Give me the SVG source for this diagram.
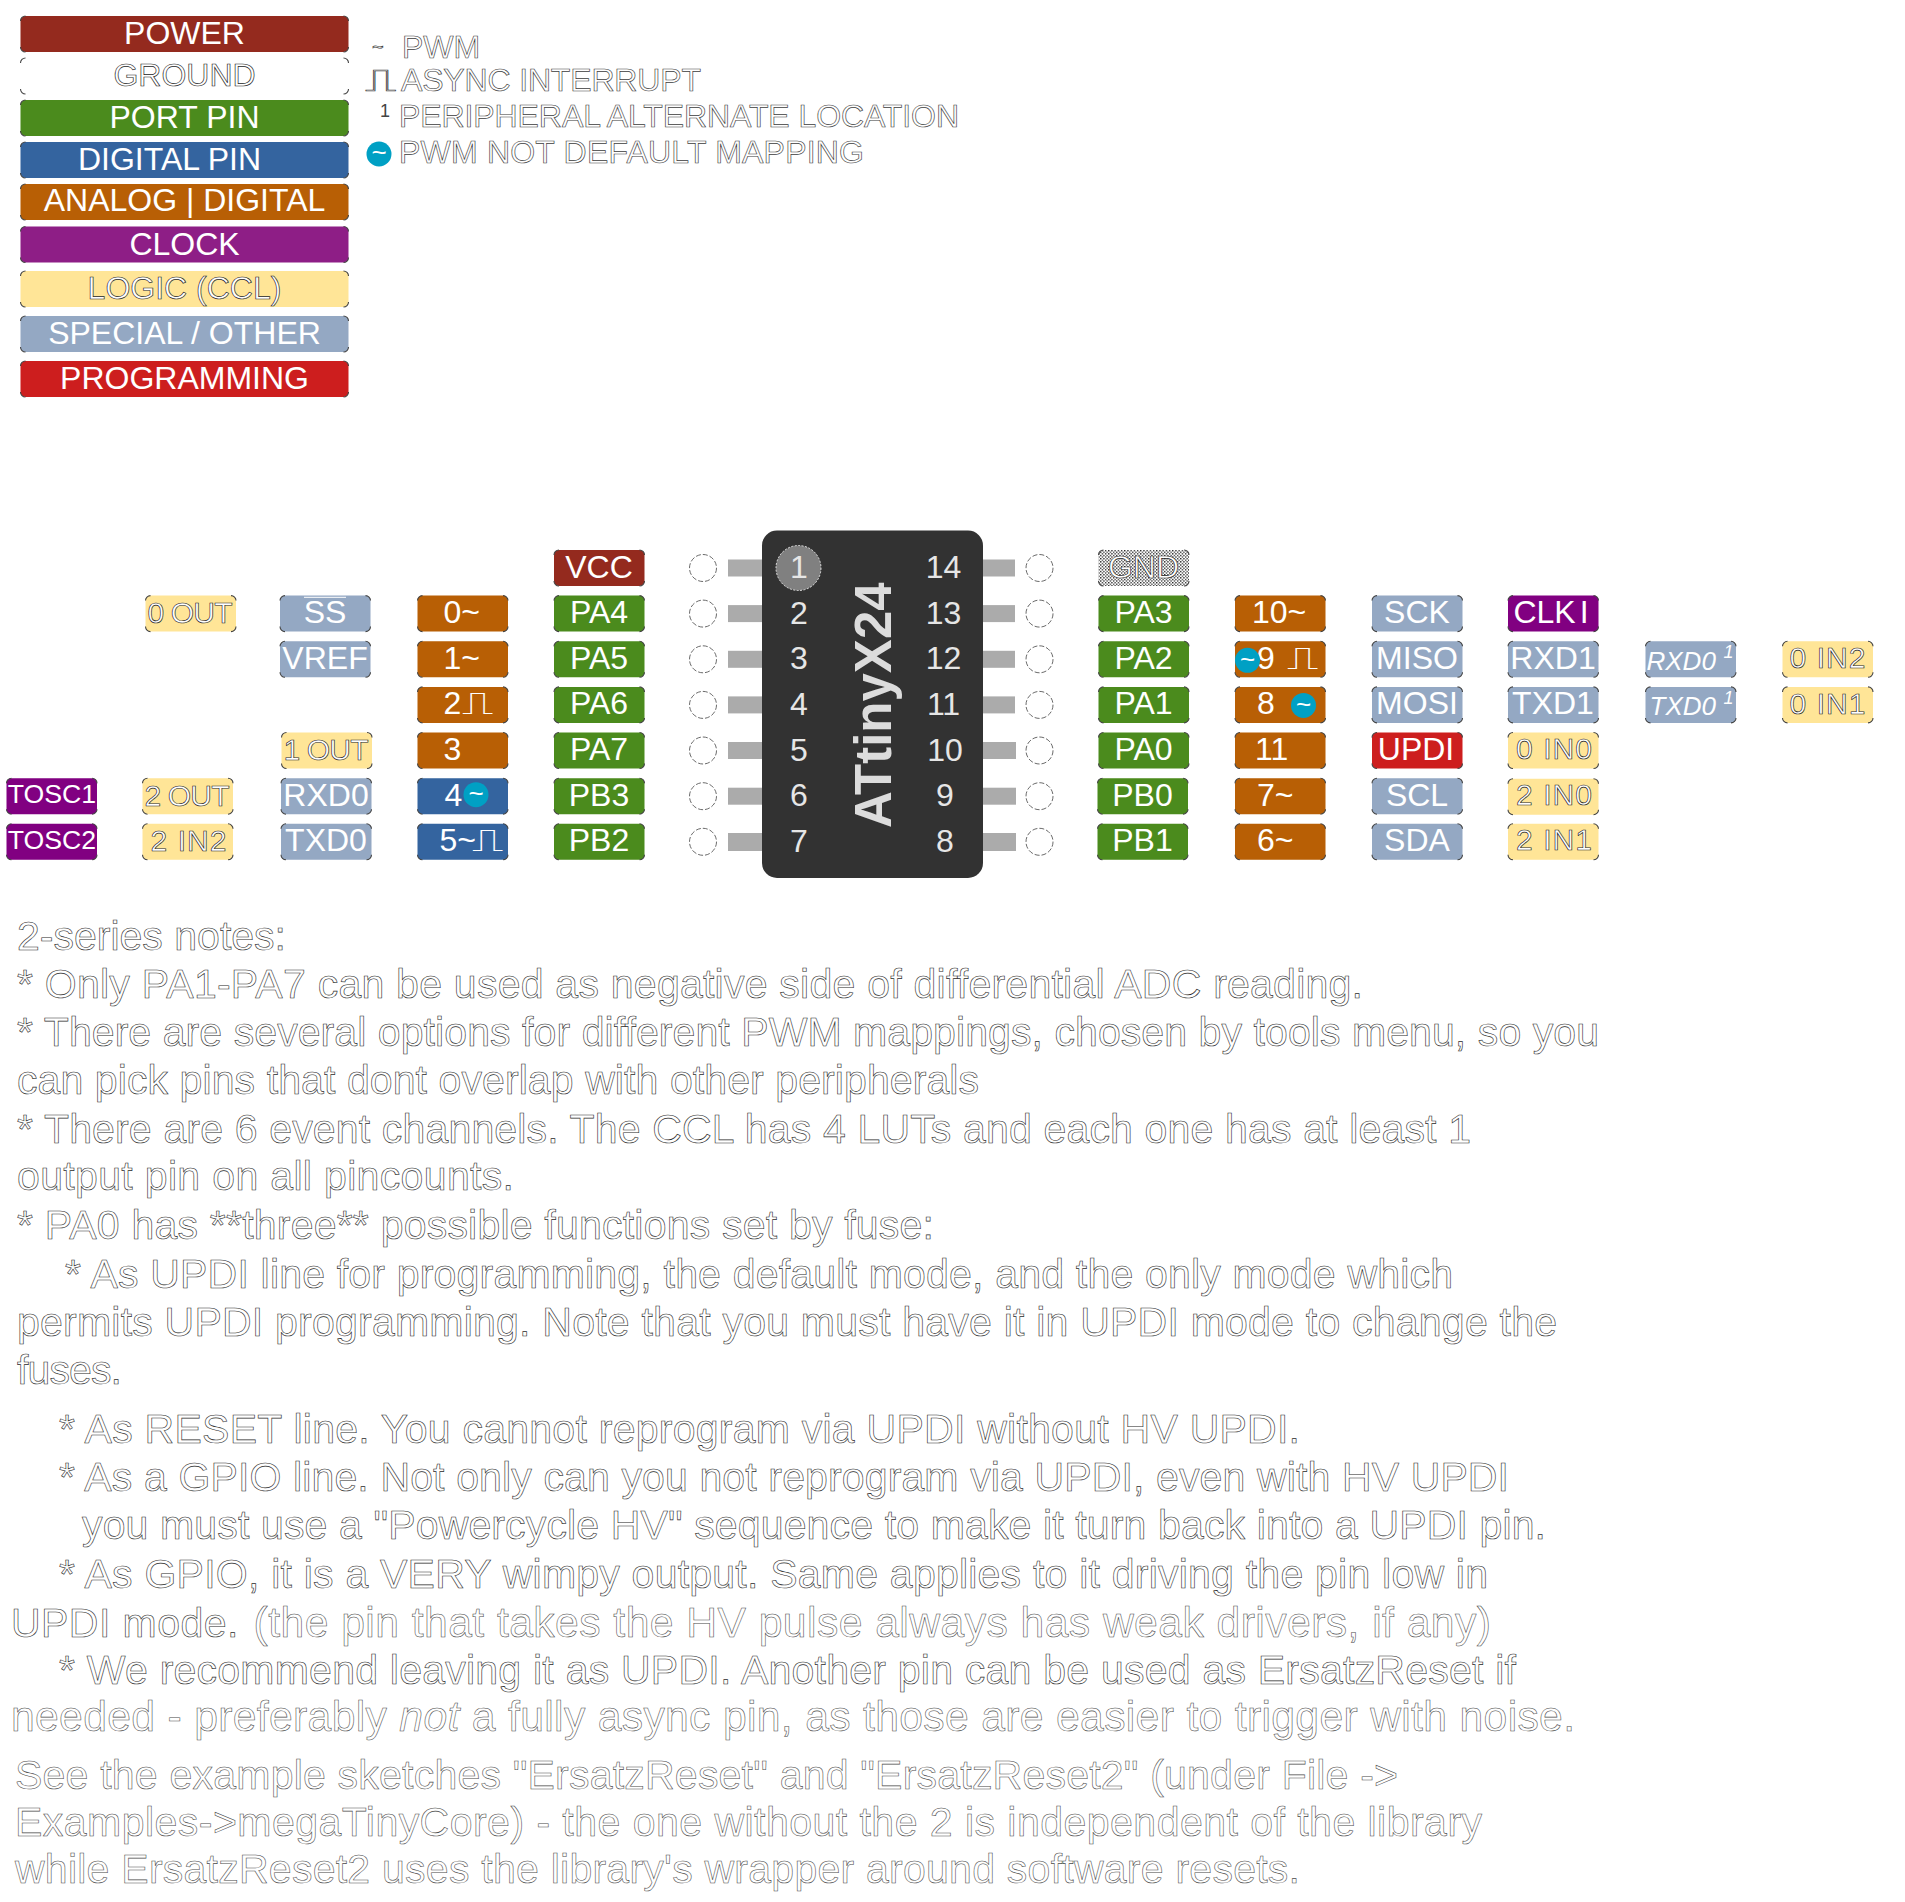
<svg xmlns="http://www.w3.org/2000/svg" width="1905" height="1902" viewBox="0 0 1905 1902">
<style>
text{font-family:"Liberation Sans","DejaVu Sans",sans-serif;white-space:pre}
.t{font-size:32px;fill:#fff;text-anchor:middle}
.s{text-anchor:start}
.sm{font-size:26.67px}
.y{font-size:30px}
.i{font-style:italic;font-size:26px;text-anchor:start;fill:#fff}
.sup{font-style:italic;font-size:18px;fill:#fff}
.h{fill:#fff;stroke:#222;stroke-width:.65px}
.n{font-size:41px;fill:#fff;stroke:#2a2a2a;stroke-width:.6px}
.n2{stroke:#484848;stroke-width:.55px}
.big{font-size:42.67px}
.lg{font-size:32px;fill:#fff;stroke:#3c3c3c;stroke-width:.65px}
.pw{fill:#942a1e}.gn{fill:#4b8b1d}.bl{fill:#34649f}.or{fill:#b85f05}.pu{fill:#810081}.pl{fill:#8e1e86}.ye{fill:#ffe597}.sp{fill:#94a8c3}.rd{fill:#cd1e1e}.wh{fill:#fff}
.gd{fill:url(#dither)}
.pad{fill:#ababab}
.hole{fill:#fff;stroke:#444;stroke-width:.8px;stroke-dasharray:5 2}
.num{font-size:32px;fill:#e6e6e6;text-anchor:middle}
.dot{fill:#00a0c4}
.dt{font-size:26px;fill:#fff;text-anchor:middle}
.c{fill:none;stroke:#444;stroke-width:1.1px}
.sq{font-size:32px;fill:#fff}
</style>
<defs>
<pattern id="dither" width="3.200" height="3.200" patternUnits="userSpaceOnUse"><rect width="3.200" height="3.200" fill="#fff"/><rect width="1.300" height="1.300" fill="#222"/><rect x="1.600" y="1.600" width="1.300" height="1.300" fill="#222"/></pattern>
<g id="b"><rect width="90.500" height="36" rx="5"/><path class="c" d="M0 5A5 5 0 0 1 5 0M85.500 0A5 5 0 0 1 90.500 5M90.500 31A5 5 0 0 1 85.500 36M5 36A5 5 0 0 1 0 31"/></g>
<g id="L"><rect width="328" height="36" rx="5"/><path class="c" d="M0 5A5 5 0 0 1 5 0M323 0A5 5 0 0 1 328 5M328 31A5 5 0 0 1 323 36M5 36A5 5 0 0 1 0 31"/></g>
</defs>
<rect width="1905" height="1902" fill="#fff"/>

<g id="legend-power" transform="translate(20.500,16)"><use href="#L" class="pw"/><text class="t" x="164" y="28">POWER</text></g>
<g id="legend-ground" transform="translate(20.500,58)"><use href="#L" class="wh"/><text class="t h" x="164" y="28">GROUND</text></g>
<g id="legend-port" transform="translate(20.500,100)"><use href="#L" class="gn"/><text class="t" x="164" y="28">PORT PIN</text></g>
<g id="legend-digital" transform="translate(20.500,142)"><use href="#L" class="bl"/><text class="t" x="149" y="28">DIGITAL PIN</text></g>
<g id="legend-analog" transform="translate(20.500,184)"><use href="#L" class="or"/><text class="t" x="164" y="27">ANALOG | DIGITAL</text></g>
<g id="legend-clock" transform="translate(20.500,226.500)"><use href="#L" class="pl"/><text class="t" x="164" y="28">CLOCK</text></g>
<g id="legend-logic" transform="translate(20.500,271)"><use href="#L" class="ye"/><text class="t h" x="164" y="28">LOGIC (CCL)</text></g>
<g id="legend-special" transform="translate(20.500,316)"><use href="#L" class="sp"/><text class="t" x="164" y="28">SPECIAL / OTHER</text></g>
<g id="legend-programming" transform="translate(20.500,361)"><use href="#L" class="rd"/><text class="t" x="164" y="28">PROGRAMMING</text></g>

<g id="key">
<text class="lg" x="372" y="54" style="font-size:20px">~</text><text class="lg" x="402" y="57.500">PWM</text>
<text class="lg" transform="translate(365,90.500) scale(1.4,1)">⎍</text><text class="lg" x="401" y="90.500" textLength="300">ASYNC INTERRUPT</text>
<text x="380" y="117" style="font-size:18px;fill:#444">1</text><text class="lg" x="399" y="127" textLength="560">PERIPHERAL ALTERNATE LOCATION</text>
<circle class="dot" cx="379" cy="154" r="12.500"/><text class="dt" x="379" y="161">~</text><text class="lg" x="399" y="163" textLength="465">PWM NOT DEFAULT MAPPING</text>
</g>

<g id="chip">
<g id="pads">
<rect class="pad" x="728" y="559.500" width="34" height="17"/><rect class="pad" x="728" y="605.100" width="34" height="17"/><rect class="pad" x="728" y="650.800" width="34" height="17"/><rect class="pad" x="728" y="696.400" width="34" height="17"/><rect class="pad" x="728" y="742" width="34" height="17"/><rect class="pad" x="728" y="787.700" width="34" height="17"/><rect class="pad" x="728" y="833" width="34" height="18"/>
<rect class="pad" x="980" y="559.500" width="35" height="17"/><rect class="pad" x="980" y="605.100" width="35" height="17"/><rect class="pad" x="980" y="650.800" width="35" height="17"/><rect class="pad" x="980" y="696.400" width="35" height="17"/><rect class="pad" x="982.500" y="742" width="33.500" height="17"/><rect class="pad" x="982.500" y="787.700" width="33.500" height="17"/><rect class="pad" x="982.500" y="833" width="33.500" height="18"/>
</g>
<rect x="762" y="530.500" width="221" height="347.500" rx="15" fill="#323232"/>
<circle cx="798.500" cy="568" r="22.500" fill="#808080" stroke="#fff" stroke-width=".8" stroke-dasharray="2 1.500"/>
<text class="num" x="799" y="578">1</text><text class="num" x="799" y="623.600">2</text><text class="num" x="799" y="669.300">3</text><text class="num" x="799" y="714.900">4</text><text class="num" x="799" y="760.500">5</text><text class="num" x="799" y="806.200">6</text><text class="num" x="799" y="851.800">7</text>
<text class="num" x="943.500" y="578">14</text><text class="num" x="943.500" y="623.600">13</text><text class="num" x="943.500" y="669.300">12</text><text class="num" x="943.500" y="714.900">11</text><text class="num" x="945" y="760.500">10</text><text class="num" x="945" y="806.200">9</text><text class="num" x="945" y="851.800">8</text>
<text transform="translate(891,828) rotate(-90)" style="font-size:51px;font-weight:bold;fill:#dcdcdc">ATtinyX24</text>
</g>
<g id="holes">
<circle class="hole" cx="703" cy="568" r="13.500"/><circle class="hole" cx="703" cy="613.600" r="13.500"/><circle class="hole" cx="703" cy="659.300" r="13.500"/><circle class="hole" cx="703" cy="704.900" r="13.500"/><circle class="hole" cx="703" cy="750.500" r="13.500"/><circle class="hole" cx="703" cy="796.200" r="13.500"/><circle class="hole" cx="703" cy="841.800" r="13.500"/>
<circle class="hole" cx="1039.500" cy="568" r="13.500"/><circle class="hole" cx="1039.500" cy="613.600" r="13.500"/><circle class="hole" cx="1039.500" cy="659.300" r="13.500"/><circle class="hole" cx="1039.500" cy="704.900" r="13.500"/><circle class="hole" cx="1039.500" cy="750.500" r="13.500"/><circle class="hole" cx="1039.500" cy="796.200" r="13.500"/><circle class="hole" cx="1039.500" cy="841.800" r="13.500"/>
</g>

<g id="tosc1" transform="translate(6.500,778.200)"><use href="#b" class="pu"/><text class="t sm" x="45.500" y="25">TOSC1</text></g>
<g id="tosc2" transform="translate(6.500,823.800)"><use href="#b" class="pu"/><text class="t sm" x="45.500" y="25">TOSC2</text></g>

<g id="out0" transform="translate(145.500,595.600)"><use href="#b" class="ye"/><text class="s y h" x="2" y="27.500" textLength="85">0 OUT</text></g>
<g id="out2" transform="translate(142.500,778.200)"><use href="#b" class="ye"/><text class="s y h" x="2" y="27.500" textLength="85">2 OUT</text></g>
<g id="in22" transform="translate(142.500,823.800)"><use href="#b" class="ye"/><text class="s y h" x="8" y="27.500" textLength="76">2 IN2</text></g>

<g id="ss" transform="translate(280,595.600)"><use href="#b" class="sp"/><line x1="24" y1="1.700" x2="66" y2="1.700" stroke="#fff" stroke-width="1"/><text class="t" x="45" y="27">SS</text></g>
<g id="vref" transform="translate(280,641.300)"><use href="#b" class="sp"/><text class="t" x="45" y="27.500">VREF</text></g>
<g id="out1" transform="translate(281.500,732.500)"><use href="#b" class="ye"/><text class="s y h" x="2" y="27.500" textLength="85">1 OUT</text></g>
<g id="rxd0" transform="translate(281,778.200)"><use href="#b" class="sp"/><text class="t" x="45" y="27.500">RXD0</text></g>
<g id="txd0" transform="translate(281,823.800)"><use href="#b" class="sp"/><text class="t" x="45" y="27.500">TXD0</text></g>

<g id="d0" transform="translate(417.500,595.600)"><use href="#b" class="or"/><text class="t s" x="26" y="27.500">0~</text></g>
<g id="d1" transform="translate(417.500,641.300)"><use href="#b" class="or"/><text class="t s" x="26" y="27.500">1~</text></g>
<g id="d2" transform="translate(417.500,686.900)"><use href="#b" class="or"/><text class="t s" x="26" y="27.500">2</text><text class="sq" transform="translate(44,27.500) scale(1.4,1)">⎍</text></g>
<g id="d3" transform="translate(417.500,732.500)"><use href="#b" class="or"/><text class="t s" x="26" y="27.500">3</text></g>
<g id="d4" transform="translate(417.500,778.200)"><use href="#b" class="bl"/><text class="t s" x="27" y="27.500">4</text><circle class="dot" cx="58.500" cy="16.500" r="12.500"/><text class="dt" x="58.500" y="24">~</text></g>
<g id="d5" transform="translate(417.500,823.800)"><use href="#b" class="bl"/><text class="t s" x="22" y="27.500">5~</text><text class="sq" transform="translate(54,27.500) scale(1.4,1)">⎍</text></g>

<g id="vcc" transform="translate(554,550)"><use href="#b" class="pw"/><text class="t" x="45" y="28">VCC</text></g>
<g id="pa4" transform="translate(554,595.600)"><use href="#b" class="gn"/><text class="t" x="45" y="27.500">PA4</text></g>
<g id="pa5" transform="translate(554,641.300)"><use href="#b" class="gn"/><text class="t" x="45" y="27.500">PA5</text></g>
<g id="pa6" transform="translate(554,686.900)"><use href="#b" class="gn"/><text class="t" x="45" y="27.500">PA6</text></g>
<g id="pa7" transform="translate(554,732.500)"><use href="#b" class="gn"/><text class="t" x="45" y="27.500">PA7</text></g>
<g id="pb3" transform="translate(554,778.200)"><use href="#b" class="gn"/><text class="t" x="45" y="27.500">PB3</text></g>
<g id="pb2" transform="translate(554,823.800)"><use href="#b" class="gn"/><text class="t" x="45" y="27.500">PB2</text></g>

<g id="gnd" transform="translate(1098.500,550)"><use href="#b" class="gd"/><text class="t h" x="45" y="28">GND</text></g>
<g id="pa3" transform="translate(1098.500,595.600)"><use href="#b" class="gn"/><text class="t" x="45" y="27.500">PA3</text></g>
<g id="pa2" transform="translate(1098.500,641.300)"><use href="#b" class="gn"/><text class="t" x="45" y="27.500">PA2</text></g>
<g id="pa1" transform="translate(1098.500,686.900)"><use href="#b" class="gn"/><text class="t" x="45" y="27.500">PA1</text></g>
<g id="pa0" transform="translate(1098.500,732.500)"><use href="#b" class="gn"/><text class="t" x="45" y="27.500">PA0</text></g>
<g id="pb0" transform="translate(1097.500,778.200)"><use href="#b" class="gn"/><text class="t" x="45" y="27.500">PB0</text></g>
<g id="pb1" transform="translate(1097.500,823.800)"><use href="#b" class="gn"/><text class="t" x="45" y="27.500">PB1</text></g>

<g id="d10" transform="translate(1235,595.600)"><use href="#b" class="or"/><text class="t s" x="17" y="27.500">10~</text></g>
<g id="d9" transform="translate(1235,641.300)"><use href="#b" class="or"/><text class="t s" x="22" y="27.500">9</text><text class="sq" transform="translate(52,27.500) scale(1.4,1)">⎍</text><circle class="dot" cx="12.500" cy="19" r="12.500"/><text class="dt" x="12.500" y="26.500">~</text></g>
<g id="d8" transform="translate(1235,686.900)"><use href="#b" class="or"/><text class="t s" x="22" y="27.500">8</text><circle class="dot" cx="68.500" cy="18.500" r="12.500"/><text class="dt" x="68.500" y="26">~</text></g>
<g id="d11" transform="translate(1235,732.500)"><use href="#b" class="or"/><text class="t s" x="20" y="27.500">11</text></g>
<g id="d7" transform="translate(1235,778.200)"><use href="#b" class="or"/><text class="t s" x="22" y="27.500">7~</text></g>
<g id="d6" transform="translate(1235,823.800)"><use href="#b" class="or"/><text class="t s" x="22" y="27.500">6~</text></g>

<g id="sck" transform="translate(1372,595.600)"><use href="#b" class="sp"/><text class="t" x="45" y="27.500">SCK</text></g>
<g id="miso" transform="translate(1372,641.300)"><use href="#b" class="sp"/><text class="t" x="45" y="27.500">MISO</text></g>
<g id="mosi" transform="translate(1372,686.900)"><use href="#b" class="sp"/><text class="t" x="45" y="27.500">MOSI</text></g>
<g id="updi" transform="translate(1372,732.500)"><use href="#b" class="rd"/><text class="t" x="44" y="27.500">UPDI</text></g>
<g id="scl" transform="translate(1372,778.200)"><use href="#b" class="sp"/><text class="t" x="45" y="27.500">SCL</text></g>
<g id="sda" transform="translate(1372,823.800)"><use href="#b" class="sp"/><text class="t" x="45" y="27.500">SDA</text></g>

<g id="clki" transform="translate(1508,595.600)"><use href="#b" class="pu"/><text class="t" x="43" y="27.500">CLK<tspan dx="4">I</tspan></text></g>
<g id="rxd1" transform="translate(1508,641.300)"><use href="#b" class="sp"/><text class="t" x="45" y="27.500">RXD1</text></g>
<g id="txd1" transform="translate(1508,686.900)"><use href="#b" class="sp"/><text class="t" x="45" y="27.500">TXD1</text></g>
<g id="in00" transform="translate(1508,732.500)"><use href="#b" class="ye"/><text class="s y h" x="8" y="26.500" textLength="76">0 IN0</text></g>
<g id="in20" transform="translate(1508,778.700)"><use href="#b" class="ye"/><text class="s y h" x="8" y="26.500" textLength="76">2 IN0</text></g>
<g id="in21" transform="translate(1508,823.800)"><use href="#b" class="ye"/><text class="s y h" x="8" y="26.500" textLength="76">2 IN1</text></g>

<g id="rxd0alt" transform="translate(1645.500,641.300)"><use href="#b" class="sp"/><text class="i" x="1" y="28.500">RXD0</text><text class="sup" x="78" y="17">1</text></g>
<g id="txd0alt" transform="translate(1645.500,686.900)"><use href="#b" class="sp"/><text class="i" x="4" y="28">TXD0</text><text class="sup" x="78" y="17">1</text></g>
<g id="in02" transform="translate(1782.500,641.300)"><use href="#b" class="ye"/><text class="s y h" x="7" y="27" textLength="76">0 IN2</text></g>
<g id="in01" transform="translate(1782.500,686.900)"><use href="#b" class="ye"/><text class="s y h" x="7" y="27" textLength="76">0 IN1</text></g>

<g id="notes">
<text class="n" x="17" y="950" textLength="269">2-series notes:</text>
<text class="n" x="17" y="998.300" textLength="1346">* Only PA1-PA7 can be used as negative side of differential ADC reading.</text>
<text class="n" x="17" y="1046" textLength="1582">* There are several options for different PWM mappings, chosen by tools menu, so you</text>
<text class="n" x="17" y="1094" textLength="962">can pick pins that dont overlap with other peripherals</text>
<text class="n" x="17" y="1142.500" textLength="1454">* There are 6 event channels. The CCL has 4 LUTs and each one has at least 1</text>
<text class="n" x="17" y="1190" textLength="497">output pin on all pincounts.</text>
<text class="n" x="17" y="1239" textLength="917">* PA0 has **three** possible functions set by fuse:</text>
<text class="n" x="65" y="1287.500" textLength="1388">* As UPDI line for programming, the default mode, and the only mode which</text>
<text class="n" x="17" y="1335.500" textLength="1540">permits UPDI programming. Note that you must have it in UPDI mode to change the</text>
<text class="n" x="17" y="1384" textLength="105">fuses.</text>
<text class="n" x="59" y="1443" textLength="1241">* As RESET line. You cannot reprogram via UPDI without HV UPDI.</text>
<text class="n" x="59" y="1491" textLength="1450">* As a GPIO line. Not only can you not reprogram via UPDI, even with HV UPDI</text>
<text class="n" x="82" y="1539" textLength="1464">you must use a "Powercycle HV" sequence to make it turn back into a UPDI pin.</text>
<text class="n" x="59" y="1587.500" textLength="1429">* As GPIO, it is a VERY wimpy output. Same applies to it driving the pin low in</text>
<text class="n" x="11" y="1636.500" textLength="1480">UPDI mode. <tspan class="n2 big" dx="3">(the pin that takes the HV pulse always has weak drivers, if any)</tspan></text>
<text class="n" x="59" y="1683.500" textLength="1457">* We recommend leaving it as UPDI. Another pin can be used as ErsatzReset if</text>
<text class="n n2 big" x="11" y="1731" textLength="1564">needed - preferably <tspan font-style="italic">not</tspan> a fully async pin, as those are easier to trigger with noise.</text>
<text class="n n2" x="15" y="1789" textLength="1383">See the example sketches "ErsatzReset" and "ErsatzReset2" (under File -&gt;</text>
<text class="n n2" x="15" y="1836" textLength="1467">Examples-&gt;megaTinyCore) - the one without the 2 is independent of the library</text>
<text class="n n2" x="15" y="1883" textLength="1285">while ErsatzReset2 uses the library's wrapper around software resets.</text>
</g>
</svg>
